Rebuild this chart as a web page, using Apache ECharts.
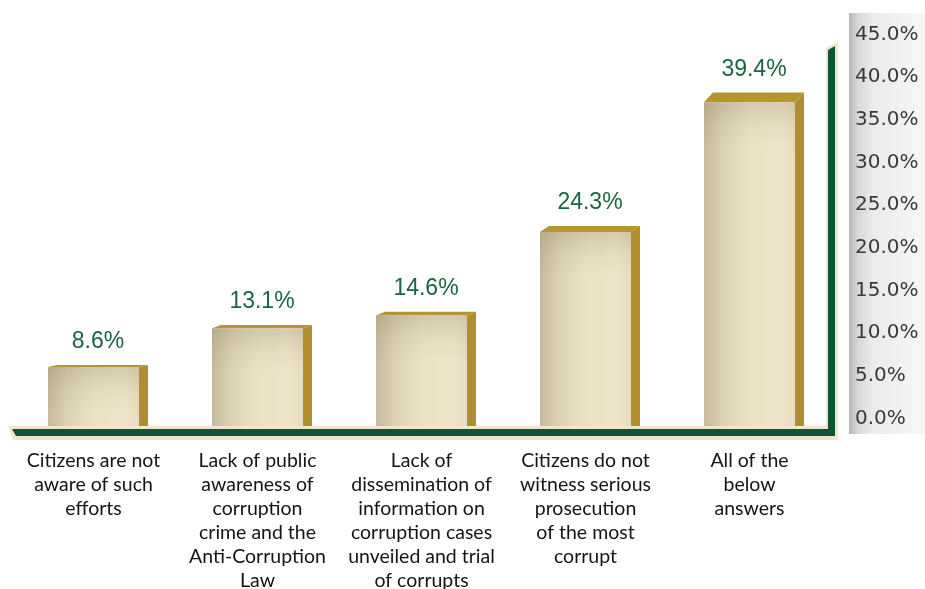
<!DOCTYPE html>
<html>
<head>
<meta charset="utf-8">
<script src="https://cdn.jsdelivr.net/npm/echarts@6/dist/echarts.min.js"></script>
<style>
  html, body { margin: 0; padding: 0; background: #ffffff; }
  #chart { width: 925px; height: 589px; }
</style>
</head>
<body>
<div id="chart"></div>
<script>
// Survey answers and their shares (percent)
const categories = [
  'Citizens are not\naware of such\nefforts',
  'Lack of public\nawareness of\ncorruption\ncrime and the\nAnti-Corruption\nLaw',
  'Lack of\ndissemination of\ninformation on\ncorruption cases\nunveiled and trial\nof corrupts',
  'Citizens do not\nwitness serious\nprosecution\nof the most\ncorrupt',
  'All of the\nbelow\nanswers'
];
const values = [8.6, 13.1, 14.6, 24.3, 39.4];

// Percentage scale shown on the right
const axisMin = 0;
const axisMax = 45;
const axisStep = 5;

const GOLD_SIDE = '#b08e2b';
const GOLD_TOP = '#b5952f';
const LABEL_GREEN = '#1b6441';

const chart = echarts.init(document.getElementById('chart'), null, { renderer: 'canvas' });

// Draws one box-like bar: beige front, gold top and right side, value label above
function renderBox(params, api) {
  const idx = api.value(0);
  const val = api.value(1);
  const top = api.coord([idx, val]);
  const base = api.coord([idx, 0]);
  const bw = api.size([1, 0])[0] * 0.555;
  const xl = top[0] - bw / 2;
  const xr = top[0] + bw / 2;
  const floorY = base[1] - 15;
  const ty = top[1];
  const h = floorY - ty;
  const dx = 9;
  const dy = -(0.5 + 0.028 * h);

  return {
    type: 'group',
    children: [
      {
        type: 'polygon',
        shape: { points: [[xr, ty], [xr + dx, ty + dy], [xr + dx, floorY], [xr, floorY]] },
        style: { fill: GOLD_SIDE }
      },
      {
        type: 'polygon',
        shape: { points: [[xl, ty], [xl + dx, ty + dy], [xr + dx, ty + dy], [xr, ty]] },
        style: { fill: GOLD_TOP }
      },
      {
        type: 'rect',
        shape: { x: xl, y: ty, width: bw, height: h },
        style: {
          fill: new echarts.graphic.LinearGradient(0, 0, 1, 0, [
            { offset: 0, color: '#c5ba9a' },
            { offset: 0.22, color: '#ddd3b6' },
            { offset: 0.5, color: '#ebe2c6' },
            { offset: 0.85, color: '#eee5ca' },
            { offset: 1, color: '#e6dcbe' }
          ])
        }
      },
      {
        type: 'rect',
        shape: { x: xl, y: ty, width: bw, height: Math.min(45, h) },
        style: {
          fill: new echarts.graphic.LinearGradient(0, 0, 0, 1, [
            { offset: 0, color: 'rgba(120,105,70,0.22)' },
            { offset: 0.5, color: 'rgba(120,105,70,0.07)' },
            { offset: 1, color: 'rgba(120,105,70,0)' }
          ])
        }
      },
      {
        type: 'text',
        style: {
          text: val.toFixed(1) + '%',
          x: top[0] + dx / 2,
          y: ty + dy - 23,
          align: 'center',
          verticalAlign: 'middle',
          fill: LABEL_GREEN,
          font: '23px "Liberation Sans", Arial, sans-serif'
        }
      }
    ]
  };
}

const option = {
  animation: false,
  backgroundColor: '#ffffff',
  grid: [
    { left: 11.5, right: 93.5, top: 54, bottom: 148, containLabel: false, outerBoundsMode: 'none' },
    { left: 830, right: 78, top: 34.5, bottom: 170.5, containLabel: false, outerBoundsMode: 'none' }
  ],
  xAxis: [
    {
      type: 'category',
      gridIndex: 0,
      data: categories,
      boundaryGap: true,
      axisLine: { show: false },
      axisTick: { show: false },
      axisLabel: {
        interval: 0,
        margin: 8,
        color: '#141414',
        fontFamily: 'Lato, "Open Sans", sans-serif',
        fontSize: 19.5,
        lineHeight: 24,
        align: 'center'
      }
    },
    { type: 'value', gridIndex: 1, show: false }
  ],
  yAxis: [
    {
      type: 'value',
      gridIndex: 0,
      min: axisMin,
      max: axisMax,
      show: false
    },
    {
      type: 'value',
      gridIndex: 1,
      position: 'right',
      min: axisMin,
      max: axisMax,
      interval: axisStep,
      axisLine: { show: false },
      axisTick: { show: false },
      splitLine: { show: false },
      axisLabel: {
        margin: 8,
        color: '#3a3a3a',
        fontFamily: '"DejaVu Sans", sans-serif',
        fontSize: 20,
        formatter: function (v) { return v.toFixed(1) + '%'; }
      }
    }
  ],
  graphic: [
    // shaded panel behind the percentage scale
    {
      type: 'rect',
      z: -10,
      shape: { x: 849, y: 13, width: 76, height: 421 },
      style: {
        fill: new echarts.graphic.LinearGradient(0, 0, 1, 0, [
          { offset: 0, color: '#b8b8b8' },
          { offset: 0.12, color: '#d8d8d8' },
          { offset: 0.32, color: '#ebebeb' },
          { offset: 1, color: '#f7f7f7' }
        ])
      }
    },
    // floor
    {
      type: 'polygon', z: 10,
      shape: { points: [[8, 426], [838, 426], [838, 440], [13, 440]] },
      style: { fill: '#efe6cc' }
    },
    // back wall
    {
      type: 'polygon', z: 10,
      shape: { points: [[826, 48], [838, 42], [838, 440], [826, 440]] },
      style: { fill: '#efe6cc' }
    },
    {
      type: 'polygon', z: 11,
      shape: { points: [[12, 429], [835, 429], [835, 436], [16, 436]] },
      style: { fill: '#0e5535' }
    },
    {
      type: 'polygon', z: 11,
      shape: { points: [[828, 50], [835, 46], [835, 436], [828, 436]] },
      style: { fill: '#0e5535' }
    }
  ],
  series: [
    {
      type: 'custom',
      xAxisIndex: 0,
      yAxisIndex: 0,
      z: 2,
      renderItem: renderBox,
      data: values.map(function (v, i) { return [i, v]; })
    }
  ]
};

chart.setOption(option);
</script>
</body>
</html>
